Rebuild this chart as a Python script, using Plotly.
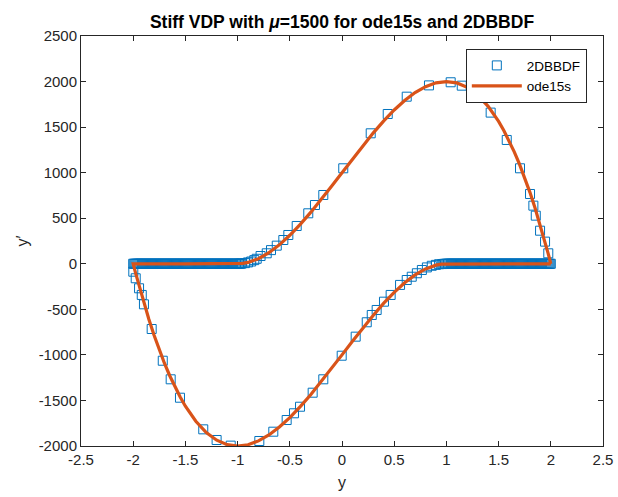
import plotly.graph_objects as go

# ---------------- data ----------------
# ode15s solution curve (y, y')
ode_y = [2.0, 1.5, 1.0, 0.95, 0.9, 0.85, 0.8, 0.7, 0.6, 0.5, 0.4, 0.3, 0.2, 0.1, 0.0,
         -0.1, -0.2, -0.3, -0.4, -0.5, -0.6, -0.7, -0.8, -0.9, -1.0, -1.1, -1.2, -1.3,
         -1.4, -1.45, -1.5, -1.55, -1.6, -1.65, -1.7, -1.75, -1.8, -1.85, -1.9, -1.95,
         -1.975, -1.99, -2.0,
         -1.5, -1.0, -0.95, -0.9, -0.85, -0.8, -0.7, -0.6, -0.5, -0.4, -0.3, -0.2, -0.1,
         0.0, 0.1, 0.2, 0.3, 0.4, 0.5, 0.6, 0.7, 0.8, 0.9, 1.0, 1.1, 1.2, 1.3, 1.4,
         1.45, 1.5, 1.55, 1.6, 1.65, 1.7, 1.75, 1.8, 1.85, 1.9, 1.95, 1.975, 1.99, 2.0]
ode_yp = [0, 0, 0, -4, -15, -32, -56, -122, -208, -313, -432, -564, -704, -851, -1000,
          -1150, -1296, -1437, -1568, -1688, -1792, -1879, -1944, -1986, -2000, -1985,
          -1936, -1852, -1728, -1651, -1563, -1463, -1352, -1229, -1094, -945, -784,
          -609, -421, -218, -111, -45, 0,
          0, 0, 4, 15, 32, 56, 122, 208, 313, 432, 564, 704, 851,
          1000, 1150, 1296, 1437, 1568, 1688, 1792, 1879, 1944, 1986, 2000, 1985, 1936,
          1852, 1728, 1651, 1563, 1463, 1352, 1229, 1094, 945, 784, 609, 421, 218, 111,
          45, 0]

# 2DBBDF points: slow phase (right branch), y' ~ 0
bbdf_flat_right_y = [2.00, 1.99, 1.98, 1.97, 1.96, 1.95, 1.94, 1.93, 1.92, 1.91,
                     1.90, 1.89, 1.88, 1.87, 1.86, 1.85, 1.84, 1.83, 1.82, 1.81,
                     1.80, 1.79, 1.78, 1.77, 1.76, 1.75, 1.74, 1.73, 1.72, 1.71,
                     1.70, 1.69, 1.68, 1.67, 1.66, 1.65, 1.64, 1.63, 1.62, 1.61,
                     1.60, 1.59, 1.58, 1.57, 1.56, 1.55, 1.54, 1.53, 1.52, 1.51,
                     1.50, 1.49, 1.48, 1.47, 1.46, 1.45, 1.44, 1.43, 1.42, 1.41,
                     1.40, 1.39, 1.38, 1.37, 1.36, 1.35, 1.34, 1.33, 1.32, 1.31,
                     1.30, 1.29, 1.28, 1.27, 1.26, 1.25, 1.24, 1.23, 1.22, 1.21,
                     1.20, 1.19, 1.18, 1.17, 1.16, 1.15, 1.14, 1.13, 1.12, 1.11,
                     1.10, 1.09, 1.08, 1.07, 1.06, 1.05, 1.04, 1.03, 1.02, 1.01,
                     1.00, 0.99, 0.98, 0.97, 0.96]
bbdf_flat_right_yp = [0, 0, 0, 0, 0, 0, 0, 0, 0, 0,
                      0, 0, 0, 0, 0, 0, 0, 0, 0, 0,
                      0, 0, 0, 0, 0, 0, 0, 0, 0, 0,
                      0, 0, 0, 0, 0, 0, 0, 0, 0, 0,
                      0, 0, 0, 0, 0, 0, 0, 0, 0, 0,
                      0, 0, 0, 0, 0, 0, 0, 0, 0, 0,
                      0, 0, 0, 0, 0, 0, 0, 0, 0, 0,
                      0, 0, 0, 0, 0, 0, 0, 0, 0, 0,
                      0, 0, 0, 0, 0, 0, 0, 0, 0, 0,
                      0, 0, 0, 0, 0, 0, 0, 0, 0, 0,
                      0, -1, -1, -2, -3]

# 2DBBDF points: lower fast arc
bbdf_lower_y = [0.93, 0.90, 0.86, 0.813, 0.765, 0.717, 0.668, 0.620, 0.556, 0.466, 0.402,
                0.332, 0.285, 0.237, 0.131, -0.003, -0.179, -0.281, -0.402, -0.460,
                -0.530, -0.658, -0.792, -1.066, -1.201, -1.329, -1.552, -1.641, -1.717,
                -1.823, -1.897, -1.918, -1.944, -1.976, -1.999]
bbdf_lower_yp = [-5, -12, -22, -40, -68, -104, -142, -178, -232, -342, -416,
                 -507, -562, -642, -800, -1009, -1268, -1415, -1569, -1641,
                 -1715, -1843, -1945, -1996, -1934, -1817, -1470, -1268, -1064,
                 -716, -445, -342, -269, -159, -87]

# 2DBBDF points: slow phase (left branch), y' ~ 0
bbdf_flat_left_y = [-2.00, -1.99, -1.98, -1.97, -1.96, -1.95, -1.94, -1.93, -1.92, -1.91,
                    -1.90, -1.89, -1.88, -1.87, -1.86, -1.85, -1.84, -1.83, -1.82, -1.81,
                    -1.80, -1.79, -1.78, -1.77, -1.76, -1.75, -1.74, -1.73, -1.72, -1.71,
                    -1.70, -1.69, -1.68, -1.67, -1.66, -1.65, -1.64, -1.63, -1.62, -1.61,
                    -1.60, -1.59, -1.58, -1.57, -1.56, -1.55, -1.54, -1.53, -1.52, -1.51,
                    -1.50, -1.49, -1.48, -1.47, -1.46, -1.45, -1.44, -1.43, -1.42, -1.41,
                    -1.40, -1.39, -1.38, -1.37, -1.36, -1.35, -1.34, -1.33, -1.32, -1.31,
                    -1.30, -1.29, -1.28, -1.27, -1.26, -1.25, -1.24, -1.23, -1.22, -1.21,
                    -1.20, -1.19, -1.18, -1.17, -1.16, -1.15, -1.14, -1.13, -1.12, -1.11,
                    -1.10, -1.09, -1.08, -1.07, -1.06, -1.05, -1.04, -1.03, -1.02, -1.01,
                    -1.00, -0.99, -0.98, -0.97, -0.96]
bbdf_flat_left_yp = [0, 0, 0, 0, 0, 0, 0, 0, 0, 0,
                     0, 0, 0, 0, 0, 0, 0, 0, 0, 0,
                     0, 0, 0, 0, 0, 0, 0, 0, 0, 0,
                     0, 0, 0, 0, 0, 0, 0, 0, 0, 0,
                     0, 0, 0, 0, 0, 0, 0, 0, 0, 0,
                     0, 0, 0, 0, 0, 0, 0, 0, 0, 0,
                     0, 0, 0, 0, 0, 0, 0, 0, 0, 0,
                     0, 0, 0, 0, 0, 0, 0, 0, 0, 0,
                     0, 0, 0, 0, 0, 0, 0, 0, 0, 0,
                     0, 0, 0, 0, 0, 0, 0, 0, 0, 0,
                     0, 1, 1, 2, 3]

# 2DBBDF points: upper fast arc
bbdf_upper_y = [-0.93, -0.90, -0.87, -0.84, -0.817, -0.78, -0.721, -0.68, -0.625, -0.562,
                -0.514, -0.434, -0.323, -0.259, -0.179, 0.012, 0.275, 0.438, 0.620, 0.833,
                1.041, 1.147, 1.242, 1.424, 1.578, 1.705, 1.801, 1.833, 1.856, 1.897,
                1.945, 1.976]
bbdf_upper_yp = [7, 15, 25, 40, 55, 85, 115, 150, 199, 261,
                 316, 415, 554, 645, 755, 1048, 1432, 1644, 1834, 1958,
                 1992, 1955, 1872, 1659, 1359, 1048, 766, 638, 528, 363,
                 243, 115]

x_tick_vals = [-2.5, -2, -1.5, -1, -0.5, 0, 0.5, 1, 1.5, 2, 2.5]
x_tick_text = ["-2.5", "-2", "-1.5", "-1", "-0.5", "0", "0.5", "1", "1.5", "2", "2.5"]
y_tick_vals = [-2000, -1500, -1000, -500, 0, 500, 1000, 1500, 2000, 2500]
y_tick_text = ["-2000", "-1500", "-1000", "-500", "0", "500", "1000", "1500", "2000", "2500"]

# ---------------- figure ----------------
mk_y = bbdf_flat_right_y + bbdf_lower_y + bbdf_flat_left_y + bbdf_upper_y
mk_yp = bbdf_flat_right_yp + bbdf_lower_yp + bbdf_flat_left_yp + bbdf_upper_yp

FONT = "Liberation Sans, Arial, Helvetica, sans-serif"
AX = "#262626"

fig = go.Figure()
fig.add_trace(go.Scatter(
    x=mk_y, y=mk_yp, mode="markers", name="2DBBDF",
    marker=dict(symbol="square-open", size=9, color="#0072BD",
                line=dict(width=1, color="#0072BD")),
))
fig.add_trace(go.Scatter(
    x=ode_y, y=ode_yp, mode="lines", name="ode15s",
    line=dict(color="#D95319", width=3.2),
))

axis_common = dict(
    showgrid=False, zeroline=False, showline=True, linecolor=AX, linewidth=1,
    mirror="allticks", ticks="inside", ticklen=5, tickwidth=1, tickcolor=AX,
    tickfont=dict(family=FONT, size=15, color=AX), automargin=False,
)

fig.update_layout(
    width=618, height=497,
    margin=dict(l=81, r=15, t=36, b=51),
    paper_bgcolor="white", plot_bgcolor="white",
    font=dict(family=FONT, size=13, color=AX),
    title=dict(
        text="<b>Stiff VDP with <i>μ</i>=1500 for ode15s and 2DBBDF</b>",
        x=0.5, xref="paper", xanchor="center",
        y=1 - 22 / 497, yref="container", yanchor="middle",
        font=dict(family=FONT, size=17.5, color="#000000"),
    ),
    xaxis=dict(range=[-2.5, 2.5], tickvals=x_tick_vals, ticktext=x_tick_text,
               title=dict(text="y", font=dict(family=FONT, size=16, color=AX), standoff=9),
               **axis_common),
    yaxis=dict(range=[-2000, 2500], tickvals=y_tick_vals, ticktext=y_tick_text,
               title=dict(text="y′", font=dict(family=FONT, size=16, color=AX), standoff=6),
               **axis_common),
    legend=dict(
        x=0.969, y=0.968, xanchor="right", yanchor="top",
        bgcolor="white", bordercolor=AX, borderwidth=1,
        font=dict(family=FONT, size=13.5, color="#000000"),
        itemwidth=50, tracegroupgap=0,
    ),
    showlegend=True,
)

fig.write_html("out.html")
